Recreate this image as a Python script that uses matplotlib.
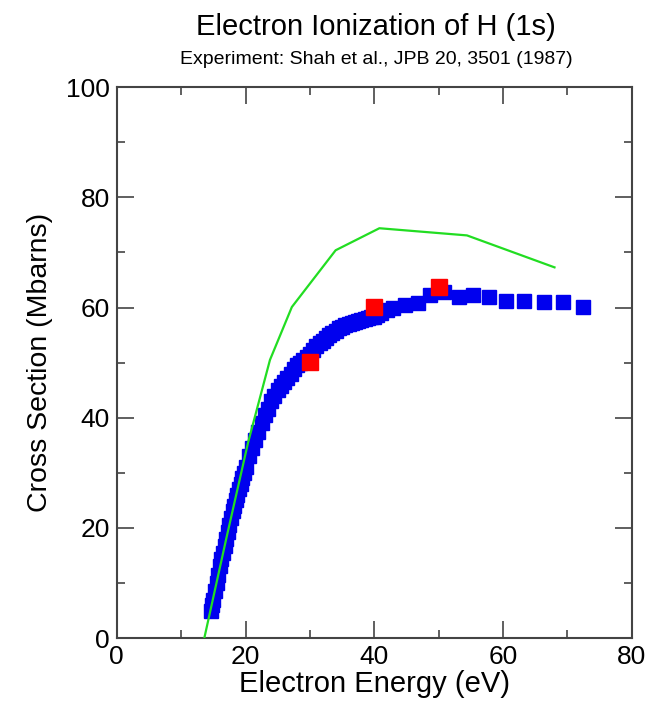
import matplotlib.pyplot as plt
import numpy as np

plt.rcParams['font.family'] = ['Liberation Sans', 'DejaVu Sans']

# experiment (Shah et al. 1987)
exp_energy = [14.6, 14.8, 15.0, 15.25, 15.5, 15.75, 16.0, 16.25, 16.5, 16.75,
              17.0, 17.25, 17.5, 17.75, 18.0, 18.25, 18.5, 18.75, 19.0, 19.25,
              19.5, 19.75, 20.0, 20.5, 21.0, 21.5, 22.0, 22.5, 23.0, 23.5,
              24.0, 24.5, 25.0, 25.5, 26.0, 26.5, 27.0, 27.5, 28.0, 28.5,
              29.0, 29.5, 30.0, 30.5, 31.0, 31.5, 32.0, 32.5, 33.0, 33.5,
              34.0, 34.5, 35.0, 35.5, 36.0, 36.5, 37.0, 37.5, 38.0, 38.5,
              39.0, 39.5, 40.0, 40.5, 41.0, 42.0, 42.9, 44.7, 46.8, 48.6,
              50.9, 53.1, 55.4, 57.8, 60.4, 63.2, 66.3, 69.3, 72.4]
exp_sigma = [5.0, 6.0, 7.0, 8.5, 10.0, 11.5, 13.0, 14.3, 15.5, 16.8,
             18.0, 19.3, 20.5, 21.8, 23.0, 24.0, 25.0, 26.0, 27.0, 28.0,
             29.0, 30.0, 31.0, 33.0, 34.5, 36.0, 37.5, 39.0, 40.5, 41.5,
             43.0, 44.0, 45.0, 45.8, 46.5, 47.3, 48.0, 48.8, 49.5, 50.0,
             50.5, 51.0, 51.5, 52.3, 53.0, 53.5, 54.0, 54.5, 55.0, 55.4,
             55.8, 56.2, 56.5, 56.8, 57.0, 57.2, 57.4, 57.6, 57.8, 58.0,
             58.1, 58.2, 58.3, 58.6, 59.0, 59.5, 60.0, 60.4, 60.8, 62.3,
             62.8, 61.9, 62.3, 61.9, 61.2, 61.2, 61.0, 61.0, 60.1]

# calculation points (red squares)
calc_energy = [30.0, 40.0, 50.0]
calc_sigma = [50.1, 60.1, 63.7]

# second calculation (green line)
line_energy = [13.6, 17.0, 20.4, 23.8, 27.2, 34.0, 40.8, 54.4, 68.0]
line_sigma = [0.0, 18.0, 35.5, 50.5, 60.1, 70.4, 74.4, 73.1, 67.3]

fig = plt.figure(figsize=(6.56, 7.09), dpi=100)
ax = fig.add_axes([0.178, 0.100, 0.785, 0.777])

ax.plot(exp_energy, exp_sigma, 's', color='#0000ee', ms=10, mec='#0000ee', zorder=2)
ax.plot(line_energy, line_sigma, '-', color='#22dd22', lw=1.6, zorder=3)
ax.plot(calc_energy, calc_sigma, 's', color='#ff0000', ms=11, mec='#ff0000', zorder=4)

ax.set_xlim(0, 80)
ax.set_ylim(0, 100)
ax.set_xticks(np.arange(0, 81, 20))
ax.set_xticks(np.arange(0, 81, 10), minor=True)
ax.set_yticks(np.arange(0, 101, 20))
ax.set_yticks(np.arange(0, 101, 10), minor=True)
ax.tick_params(which='both', direction='in', top=True, right=True,
               color='#444444', width=1.2, labelsize=19)
ax.tick_params(which='major', length=12, pad=5)
ax.tick_params(which='minor', length=6)
for sp in ax.spines.values():
    sp.set_color('#444444')
    sp.set_linewidth(1.5)

ax.set_xlabel('Electron Energy (eV)', fontsize=21, labelpad=1)
ax.set_ylabel('Cross Section (Mbarns)', fontsize=20.5, labelpad=9)

fig.text(0.573, 0.962, 'Electron Ionization of H (1s)', ha='center', va='center', fontsize=21)
fig.text(0.573, 0.916, 'Experiment: Shah et al., JPB 20, 3501 (1987)', ha='center',
         va='center', fontsize=14)

fig.savefig('out.png', dpi=100)
